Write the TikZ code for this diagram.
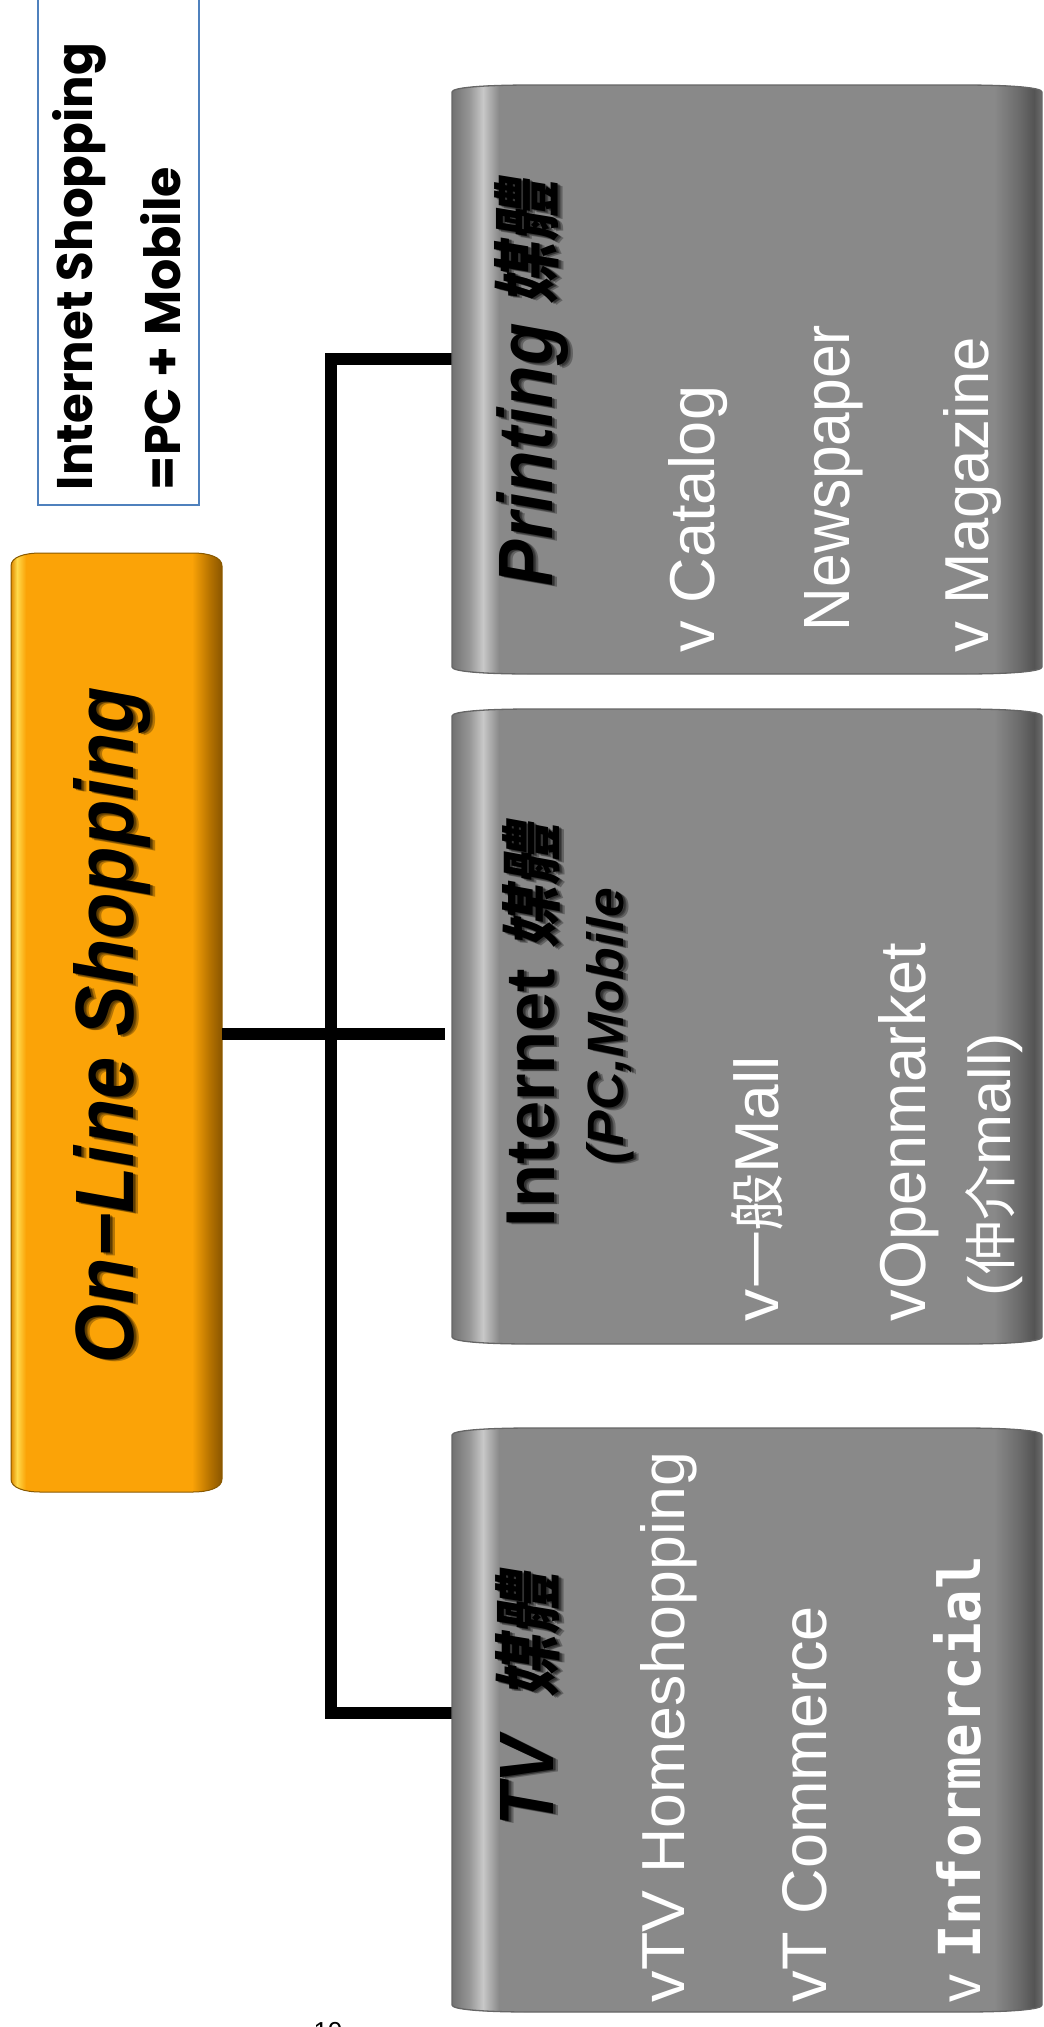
\documentclass[tikz,border=0pt]{standalone}
\usepackage{fontspec}
\usepackage{graphicx}
\setmainfont{Liberation Sans}
\newfontfamily\cjk{Noto Sans CJK TC}
\newfontfamily\cjkbi{Noto Sans CJK TC}[FakeSlant=0.18]
\newfontfamily\geo{Poppins}
\newfontfamily\slab{DejaVu Sans Mono}
\usetikzlibrary{calc}

\definecolor{noteblue}{HTML}{4F81BD}
\definecolor{boxgrey}{HTML}{898989}
\definecolor{gA}{HTML}{727272}
\definecolor{gB}{HTML}{959595}
\definecolor{gC}{HTML}{C8C8C8}
\definecolor{gD}{HTML}{6A6A6A}
\definecolor{gE}{HTML}{545454}
\definecolor{gF}{HTML}{6C6C6C}
\definecolor{obase}{HTML}{FBA307}
\definecolor{oA}{HTML}{E08A00}
\definecolor{oB}{HTML}{FFD94A}
\definecolor{oD}{HTML}{B87400}
\definecolor{oE}{HTML}{8A5600}
\definecolor{oedge}{HTML}{8A5A00}

\tikzset{
  box/.style={rectangle, inner sep=0pt, outer sep=0pt},
  conn/.style={line width=12pt, black, line join=miter},
  txt/.style={rotate=90, anchor=base west, inner sep=0pt, outer sep=0pt},
  wtxt/.style={txt, text=white},
  btxt/.style={txt, text=black},
  shad/.style={txt, text=black, text opacity=0.28},
  pillow/.style n args={3}{insert path={
    ([yshift=-#3pt]#1.north west)
      .. controls ([yshift={-0.35*#3pt}]#1.north west) and ([xshift={0.4*#2pt}]#1.north west) .. ([xshift=#2pt]#1.north west)
      -- ([xshift=-#2pt]#1.north east)
      .. controls ([xshift={-0.4*#2pt}]#1.north east) and ([yshift={-0.35*#3pt}]#1.north east) .. ([yshift=-#3pt]#1.north east)
      -- ([yshift=#3pt]#1.south east)
      .. controls ([yshift={0.35*#3pt}]#1.south east) and ([xshift={-0.4*#2pt}]#1.south east) .. ([xshift=-#2pt]#1.south east)
      -- ([xshift=#2pt]#1.south west)
      .. controls ([xshift={0.4*#2pt}]#1.south west) and ([yshift={0.35*#3pt}]#1.south west) .. ([yshift=#3pt]#1.south west)
      -- cycle}},
}

% grey cylinder-like panel drawn on a named box node
\newcommand\greyfill[1]{%
  \fill[boxgrey, pillow={#1}{80}{7}];
  \begin{scope}
    \clip[pillow={#1}{80}{7}];
    \fill[left color=gA, right color=gB] (#1.north west) rectangle ([xshift=17pt]#1.south west);
    \fill[left color=gB, right color=gC] ([xshift=17pt]#1.north west) rectangle ([xshift=31pt]#1.south west);
    \fill[left color=gC, right color=boxgrey] ([xshift=31pt]#1.north west) rectangle ([xshift=47pt]#1.south west);
    \fill[left color=boxgrey, right color=gD] ([xshift=-48pt]#1.north east) rectangle ([xshift=-22pt]#1.south east);
    \fill[left color=gD, right color=gE] ([xshift=-22pt]#1.north east) rectangle ([xshift=-8pt]#1.south east);
    \fill[left color=gE, right color=gF] ([xshift=-8pt]#1.north east) rectangle (#1.south east);
  \end{scope}
  \draw[black!60, line width=1.3pt, pillow={#1}{80}{7}];
}

% black heading with a soft drop shadow: name, x, y, width, height, text
\newcommand\stext[6]{%
  \foreach \k/\sx/\sy in {a/5/2.5, b/3.5/1.8, c/2/1}{%
    \node[shad] (#1\k) at (#2+\sx,#3+\sy) {\resizebox{#4pt}{#5pt}{#6}};
  }
  \node[btxt] (#1) at (#2,#3) {\resizebox{#4pt}{#5pt}{#6}};
}

\begin{document}
\begin{tikzpicture}[x=1pt,y=-1pt]
\useasboundingbox (0,0) rectangle (1044,2027);
\clip (0,0) rectangle (1044,2027);

% boxes
\node[box, draw=noteblue, line width=1.6pt, fill=white, minimum width=161pt, minimum height=520pt] (note) at (118.5,245) {};
\node[box, minimum width=211pt, minimum height=939pt] (root) at (116.5,1022.5) {};
\node[box, minimum width=590pt, minimum height=589pt] (print) at (747,379.5) {};
\node[box, minimum width=590pt, minimum height=635pt] (inet) at (747,1026.5) {};
\node[box, minimum width=590pt, minimum height=584pt] (tv) at (747,1720) {};

% orange root panel
\fill[obase, pillow={root}{30}{13}];
\begin{scope}
  \clip[pillow={root}{30}{13}];
  \fill[left color=oA, right color=oB] (root.north west) rectangle ([xshift=6pt]root.south west);
  \fill[left color=oB, right color=obase] ([xshift=6pt]root.north west) rectangle ([xshift=15pt]root.south west);
  \fill[left color=obase, right color=oD] ([xshift=-30pt]root.north east) rectangle ([xshift=-13pt]root.south east);
  \fill[left color=oD, right color=oE] ([xshift=-13pt]root.north east) rectangle (root.south east);
\end{scope}
\draw[oedge, line width=1pt, pillow={root}{30}{13}];

% connectors
\coordinate (jtop) at (331,359);
\coordinate (jmid) at (331,1034);
\coordinate (jbot) at (331,1713);
\coordinate (igap) at ([xshift=-7pt]inet.west);
\draw[conn] (print.west |- jtop) -- (jtop) -- (jbot) -- (tv.west |- jbot);
\draw[conn] (root.east |- jmid) -- (igap |- jmid);

% grey panels
\greyfill{print}
\greyfill{inet}
\greyfill{tv}

% note text
\node[btxt] (n1) at (92,490) {\resizebox{447pt}{40pt}{\geo\bfseries Internet Shopping}};
\node[btxt] (n2) at (180,490) {\resizebox{323pt}{40pt}{\geo\bfseries =PC + Mobile}};

% headings
\stext{rtitle}{133}{1363}{676}{60}{\bfseries\itshape On−Line Shopping}
\stext{ptitle}{552}{586}{404}{58}{\bfseries\itshape Printing {\cjkbi\bfseries\scalebox{0.88}{媒體}}}
\stext{ititle}{554}{1227}{402}{52}{\bfseries Internet {\cjkbi\bfseries\scalebox{0.88}{媒體}}}
\stext{isub}{623}{1164}{276}{37}{\bfseries\itshape (PC,Mobile}
\stext{ttitle}{553}{1826}{252}{58}{\bfseries\itshape TV\ \ {\cjkbi\bfseries\scalebox{0.88}{媒體}}}

% items
\node[wtxt] (cat) at (714,652) {\resizebox{266pt}{46pt}{v Catalog}};
\node[wtxt] (news) at (849,631) {\resizebox{306pt}{45pt}{Newspaper}};
\node[wtxt] (mag) at (988,652) {\resizebox{315pt}{45pt}{v Magazine}};
\node[wtxt] (mall) at (778,1321) {\resizebox{265pt}{47pt}{v{\cjk\scalebox{0.9}{一般}}Mall}};
\node[wtxt] (open) at (925,1321) {\resizebox{378pt}{47pt}{vOpenmarket}};
\node[wtxt] (chung) at (1010,1296) {\resizebox{263pt}{45pt}{({\cjk\scalebox{0.9}{仲介}}mall)}};
\node[wtxt] (home) at (684,2002) {\resizebox{550pt}{44pt}{vTV Homeshopping}};
\node[wtxt] (tcom) at (826,2002) {\resizebox{396pt}{44pt}{vT Commerce}};
\node[wtxt] (info) at (980,2002) {\resizebox{446pt}{47pt}{v {\slab\bfseries Informercial}}};

% page number, running off the lower edge
\node[anchor=north, inner sep=0pt, font=\fontsize{26}{26}\selectfont] (pgnum) at (328,2022) {10};
\end{tikzpicture}
\end{document}
